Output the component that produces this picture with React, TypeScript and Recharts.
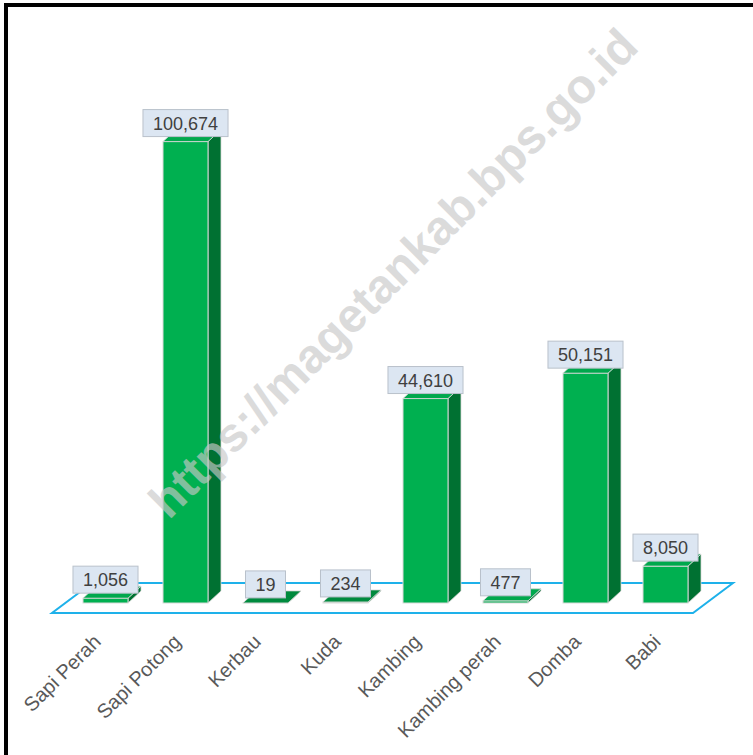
import { BarChart, Bar, XAxis, YAxis, ReferenceArea, LabelList } from "recharts";

const categories = ["Sapi Perah", "Sapi Potong", "Kerbau", "Kuda", "Kambing", "Kambing perah", "Domba", "Babi"];
const values = [1056, 100674, 19, 234, 44610, 477, 50151, 8050];
const watermark = "https://magetankab.bps.go.id";

const data = categories.map((name, i) => ({ name, value: values[i] }));

const FONT = "'Liberation Sans', Arial, sans-serif";
const DX = 13;
const DY = -12;

// 3d box for each bar
const Box3D = (props: any) => {
  const { x, y, width, height } = props;
  const h = Math.max(height, 0);
  const r = x + width;
  const b = y + h;
  return (
    <g>
      <polygon
        points={`${r},${y} ${r + DX},${y + DY} ${r + DX},${b + DY} ${r},${b}`}
        fill="#007132"
        stroke="#d9d9d9"
        strokeWidth={0.8}
      />
      <rect x={x} y={y} width={width} height={h} fill="#00b050" stroke="#d9d9d9" strokeWidth={1} />
      <polygon
        points={`${x},${y} ${x + DX},${y + DY} ${r + DX},${y + DY} ${r},${y}`}
        fill={h < 2 ? "#008a3e" : "#00a84d"}
        stroke="#d9d9d9"
        strokeWidth={0.8}
      />
    </g>
  );
};

// floor parallelogram under the bars
const Floor = (props: any) => {
  const { x, y, width, height } = props;
  const x1 = x;
  const x2 = x + width;
  const base = y + height;
  const pts = [
    [x1 - 13, base + 10],
    [x2 - 12, base + 10],
    [x2 + 28, base - 20],
    [x1 + 27, base - 20],
  ];
  return (
    <polygon
      points={pts.map((p) => p.join(",")).join(" ")}
      fill="#ffffff"
      stroke="#1eb1ea"
      strokeWidth={2}
    />
  );
};

const textWidth = (s: string, fs: number) =>
  s.split("").reduce((a, c) => a + (c === "," ? 0.278 : 0.556) * fs, 0);

const ValueLabel = (props: any) => {
  const { x, y, width, value } = props;
  const txt = Number(value).toLocaleString("en-US");
  const fs = 18;
  const w = textWidth(txt, fs) + 20;
  const hh = 27;
  const cx = x + width / 2;
  const top = y - 5 - hh;
  return (
    <g>
      <rect x={cx - w / 2} y={top} width={w} height={hh} fill="#dce6f2" stroke="#b9c1cb" strokeWidth={1} />
      <text x={cx} y={top + 20} textAnchor="middle" fontSize={fs} fontFamily={FONT} fill="#404040">
        {txt}
      </text>
    </g>
  );
};

const Tick = (props: any) => {
  const { x, y, payload } = props;
  return (
    <text
      transform={`translate(${x - 3},${y + 40}) rotate(-45)`}
      textAnchor="end"
      fontSize={20}
      fontFamily={FONT}
      fill="#595959"
    >
      {payload.value}
    </text>
  );
};

export default function App() {
  return (
    <div style={{ position: "absolute", left: 0, top: 0, width: 753, height: 755, overflow: "hidden", background: "#fff" }}>
      <div
        style={{
          position: "absolute",
          left: 4,
          top: 3,
          width: 800,
          height: 800,
          borderTop: "4px solid #000",
          borderLeft: "4px solid #000",
        }}
      />
      <div style={{ position: "absolute", left: 0, top: 0 }}>
        <BarChart width={753} height={755} data={data} margin={{ top: 53, right: 48, left: 65, bottom: 0 }}>
          <XAxis
            dataKey="name"
            height={152}
            axisLine={false}
            tickLine={false}
            tickSize={0}
            tickMargin={0}
            interval={0}
            tick={<Tick />}
          />
          <YAxis hide domain={[0, 120000]} />
          <ReferenceArea x1="Sapi Perah" x2="Babi" ifOverflow="visible" shape={<Floor />} />
          <Bar dataKey="value" barSize={45} isAnimationActive={false} shape={<Box3D />}>
            <LabelList dataKey="value" content={<ValueLabel />} />
          </Bar>
        </BarChart>
      </div>
      <svg width={753} height={755} style={{ position: "absolute", left: 0, top: 0, pointerEvents: "none" }}>
        <text
          transform="translate(393,273) rotate(-45)"
          textAnchor="middle"
          dominantBaseline="central"
          fontSize={48}
          fontWeight="bold"
          fontFamily={FONT}
          fill="#c8c8c8"
          opacity={0.65}
        >
          {watermark}
        </text>
      </svg>
    </div>
  );
}
